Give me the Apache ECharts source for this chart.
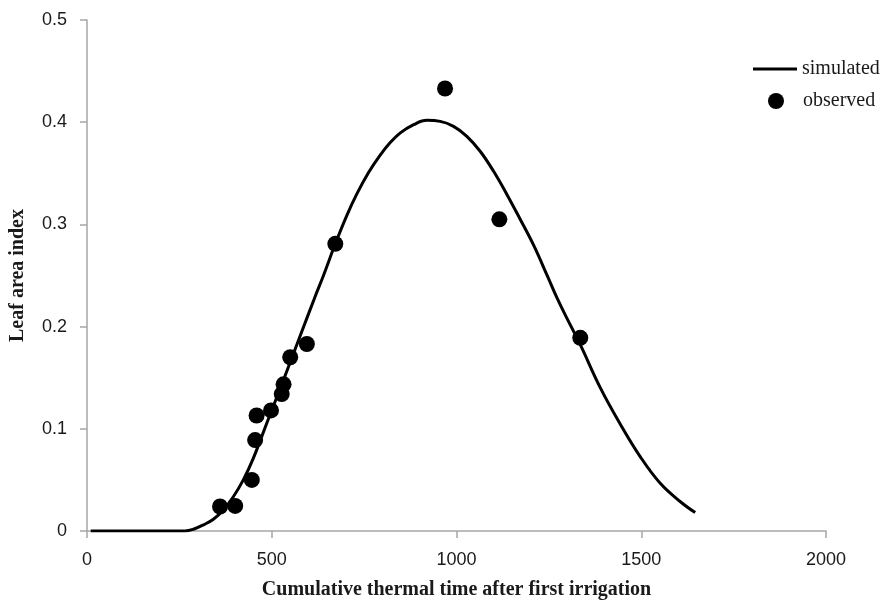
<!DOCTYPE html>
<html>
<head>
<meta charset="utf-8">
<title>Leaf area index</title>
<script src="https://cdn.jsdelivr.net/npm/echarts@6/dist/echarts.min.js"></script>
<style>
  html, body { margin: 0; padding: 0; background: #fff; }
  #chart { width: 886px; height: 605px; }
</style>
</head>
<body>
<div id="chart"></div>
<script>
  // simulated curve
  var simulated = [
    [10, 0], [265, 0], [288, 0.0017], [315, 0.006], [342, 0.0115], [369, 0.0206],
    [396, 0.0335], [423, 0.050], [450, 0.071], [487, 0.106], [532, 0.148],
    [577, 0.191], [617, 0.229], [640, 0.250], [672, 0.281], [703, 0.3086],
    [730, 0.3296], [762, 0.3507], [793, 0.3675], [820, 0.3798], [848, 0.3895],
    [884, 0.3976], [920, 0.4018], [956, 0.4008], [992, 0.3959], [1028, 0.3862],
    [1064, 0.3716], [1100, 0.3522], [1136, 0.3296], [1172, 0.3053], [1209, 0.2794],
    [1245, 0.2503], [1272, 0.228], [1299, 0.208], [1335, 0.1823], [1389, 0.1403],
    [1443, 0.1047], [1498, 0.0723], [1552, 0.0464], [1606, 0.0286], [1646, 0.018]
  ];
  // observed points
  var observed = [
    [360, 0.024], [401, 0.0245], [446, 0.050], [455, 0.089], [459, 0.113],
    [498, 0.118], [527, 0.134], [532, 0.1435], [550, 0.170], [595, 0.183],
    [672, 0.281], [969, 0.433], [1116, 0.305], [1335, 0.189]
  ];
  var xTicks = [0, 500, 1000, 1500, 2000];
  var yTicks = [0, 0.1, 0.2, 0.3, 0.4, 0.5];

  var tickFont = {
    fontFamily: 'Liberation Sans, sans-serif',
    fontSize: 18,
    color: '#1a1a1a'
  };
  var titleFont = {
    fontFamily: 'Liberation Serif, serif',
    fontWeight: 'bold',
    fontSize: 20,
    color: '#1a1a1a'
  };
  var legendFont = { fontFamily: 'Liberation Serif, serif', fontSize: 20, color: '#1a1a1a' };

  var myChart = echarts.init(document.getElementById('chart'));
  myChart.setOption({
    animation: false,
    backgroundColor: '#fff',
    grid: { left: 87, right: 60, top: 20, bottom: 70 },
    legend: [
      {
        data: [{ name: 'simulated', icon: 'rect' }],
        left: 753, top: 59, padding: 0,
        itemWidth: 44, itemHeight: 3,
        textStyle: legendFont
      },
      {
        data: [{ name: 'observed', icon: 'circle' }],
        left: 768, top: 91, padding: 0,
        itemWidth: 16, itemHeight: 16,
        textStyle: Object.assign({ padding: [0, 0, 0, 14] }, legendFont)
      }
    ],
    xAxis: {
      type: 'value',
      min: xTicks[0], max: xTicks[xTicks.length - 1], interval: 500,
      name: 'Cumulative thermal time after first irrigation',
      nameLocation: 'middle', nameGap: 49,
      nameTextStyle: titleFont,
      splitLine: { show: false },
      axisLine: { show: true, lineStyle: { color: '#a6a6a6', width: 1.5 } },
      axisTick: { show: true, length: 7, lineStyle: { color: '#a6a6a6', width: 1.5 } },
      axisLabel: Object.assign({ margin: 20, formatter: function (v) { return String(v); } }, tickFont)
    },
    yAxis: {
      type: 'value',
      min: yTicks[0], max: yTicks[yTicks.length - 1], interval: 0.1,
      name: 'Leaf area index',
      nameLocation: 'middle', nameGap: 59,
      nameTextStyle: titleFont,
      splitLine: { show: false },
      axisLine: { show: true, lineStyle: { color: '#a6a6a6', width: 1.5 } },
      axisTick: { show: true, length: 7, lineStyle: { color: '#a6a6a6', width: 1.5 } },
      axisLabel: Object.assign({ margin: 20 }, tickFont)
    },
    series: [
      {
        name: 'simulated',
        type: 'line',
        data: simulated,
        symbol: 'none',
        smooth: 0.4,
        lineStyle: { color: '#000', width: 3 },
        itemStyle: { color: '#000' }
      },
      {
        name: 'observed',
        type: 'scatter',
        data: observed,
        symbol: 'circle',
        symbolSize: 16,
        itemStyle: { color: '#000', opacity: 1 }
      }
    ]
  });
</script>
</body>
</html>
